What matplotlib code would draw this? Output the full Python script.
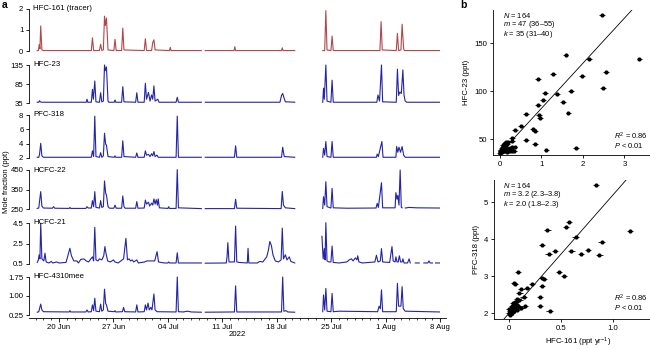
import numpy as np
import matplotlib
matplotlib.use("Agg")
import matplotlib.pyplot as plt

plt.rcParams['font.family'] = ['Liberation Sans', 'DejaVu Sans']
plt.rcParams['mathtext.fontset'] = 'custom'
plt.rcParams['mathtext.rm'] = 'Liberation Sans'
plt.rcParams['mathtext.it'] = 'Liberation Sans:italic'

nan = np.nan
GAP = (nan, nan)

# ---------------- data: panel a (time in days since 2022-06-20 00:00) ----------------
tick_days = [0, 7, 14, 21, 28, 35, 42, 49]
tick_labels = ['20 Jun', '27 Jun', '04 Jul', '11 Jul', '18 Jul', '25 Jul', '1 Aug', '8 Aug']

hfc161 = [(-2.8, 0.02), (-2.65, 0.02), (-2.55, 0.3), (-2.45, 0.1), (-2.35, 1.18), (-2.2, 0.05), (-2.0, 0.02),
          (4.15, 0.02), (4.3, 0.62), (4.45, 0.02), (5.2, 0.02), (5.35, 0.32), (5.5, 0.03), (5.7, 0.05),
          (5.85, 1.64), (5.95, 1.2), (6.1, 1.55), (6.3, 0.05), (7.05, 0.02), (7.2, 0.55), (7.35, 0.02),
          (8.05, 0.02), (8.2, 1.08), (8.35, 0.05), (10.95, 0.02), (11.1, 0.58), (11.25, 0.02),
          (11.9, 0.02), (12.05, 0.4), (12.2, 0.53), (12.35, 0.05), (14.2, 0.02), (14.3, 0.17), (14.4, 0.02),
          (18.3, 0.02), GAP,
          (18.8, 0.02), (22.5, 0.02), (22.6, 0.2), (22.7, 0.02), (28.6, 0.02), (28.7, 0.15), (28.8, 0.02),
          (30.3, 0.02), GAP,
          (33.9, 0.02), (34.15, 0.02), (34.3, 1.9), (34.45, 0.05), (34.95, 0.02), (35.1, 0.7), (35.25, 0.02),
          (41.25, 0.02), (41.4, 1.38), (41.55, 0.05), (43.35, 0.02), (43.5, 0.83), (43.65, 0.02),
          (43.95, 0.05), (44.1, 1.26), (44.3, 0.1), (44.4, 0.02), (48.9, 0.02)]

hfc23 = [(-2.8, 37), (-2.6, 37), (-2.5, 41), (-2.4, 38), (-2.2, 37), (3.5, 37), (3.6, 45), (3.7, 37),
         (4.15, 37), (4.3, 71), (4.42, 45), (4.6, 93), (4.75, 38), (5.2, 37), (5.35, 62), (5.5, 38),
         (5.7, 40), (5.85, 135), (5.95, 120), (6.1, 130), (6.3, 40), (6.4, 37), (7.1, 37), (7.2, 43),
         (7.3, 37), (8.05, 37), (8.2, 78), (8.35, 38), (9.85, 37), (10.0, 62), (10.15, 37), (10.95, 37),
         (11.1, 87), (11.25, 45), (11.5, 63), (11.7, 40), (11.9, 56), (12.05, 45), (12.2, 80), (12.35, 40),
         (12.7, 45), (12.85, 37), (15.05, 37), (15.2, 50), (15.35, 37), (18.3, 37), GAP,
         (18.8, 37), (28.4, 37), (28.6, 55), (28.75, 60), (28.9, 50), (29.1, 38), (29.4, 38), (30.3, 37), GAP,
         (33.9, 37), (34.0, 74), (34.1, 45), (34.3, 135), (34.45, 40), (34.95, 37), (35.1, 95), (35.25, 37),
         (40.85, 37), (41.0, 56), (41.2, 40), (41.45, 135), (41.6, 38), (43.35, 37), (43.5, 124),
         (43.65, 55), (43.8, 64), (44.0, 60), (44.2, 122), (44.35, 55), (44.5, 40), (44.7, 37), (48.9, 37)]

pfc318 = [(-2.8, 2.1), (-2.6, 2.1), (-2.5, 2.5), (-2.35, 4.05), (-2.2, 2.3), (-2.0, 2.1), (4.15, 2.1),
          (4.3, 3.0), (4.45, 2.2), (4.6, 7.85), (4.75, 2.2), (5.2, 2.1), (5.35, 2.75), (5.5, 2.1), (5.7, 2.3),
          (5.85, 5.45), (6.0, 3.9), (6.1, 3.8), (6.3, 2.2), (7.1, 2.1), (7.2, 2.3), (7.3, 2.1), (8.05, 2.1),
          (8.2, 4.4), (8.35, 2.2), (9.85, 2.1), (10.0, 2.7), (10.15, 2.1), (10.95, 2.1), (11.1, 3.0),
          (11.25, 2.4), (11.5, 2.5), (11.7, 2.2), (11.9, 2.6), (12.05, 2.3), (12.2, 2.9), (12.35, 2.2),
          (12.6, 2.4), (12.75, 2.1), (15.05, 2.1), (15.2, 7.85), (15.35, 2.1), (18.3, 2.1), GAP,
          (18.8, 2.1), (22.55, 2.1), (22.7, 3.7), (22.85, 2.1), (28.6, 2.1), (28.75, 3.5), (28.95, 2.2),
          (30.3, 2.1), GAP,
          (33.9, 2.1), (34.0, 3.35), (34.15, 2.4), (34.3, 4.3), (34.45, 2.2), (34.95, 2.1), (35.1, 4.3),
          (35.25, 2.1), (40.8, 2.1), (40.9, 2.55), (41.05, 2.2), (41.5, 4.3), (41.65, 2.1), (43.3, 2.1),
          (43.4, 3.6), (43.55, 2.8), (43.7, 3.5), (43.9, 2.8), (44.1, 3.6), (44.3, 2.4), (44.5, 2.1),
          (48.9, 2.1)]

hcfc22 = [(-2.8, 253), (-2.6, 255), (-2.5, 290), (-2.35, 339), (-2.2, 265), (-2.0, 255), (-0.85, 254),
          (-0.7, 262), (-0.55, 254), (1.3, 253), (1.4, 258), (1.5, 253), (3.45, 253), (3.6, 262), (3.75, 255),
          (4.15, 255), (4.3, 293), (4.45, 262), (4.6, 339), (4.75, 258), (5.2, 255), (5.35, 293), (5.5, 258),
          (5.7, 262), (5.85, 394), (6.0, 330), (6.1, 322), (6.3, 262), (6.5, 254), (7.05, 254), (7.2, 270),
          (7.35, 254), (8.05, 254), (8.2, 317), (8.35, 262), (8.5, 254), (9.85, 254), (10.0, 288),
          (10.15, 254), (10.95, 255), (11.1, 296), (11.25, 275), (11.5, 285), (11.65, 265), (11.9, 280),
          (12.05, 270), (12.2, 302), (12.35, 275), (12.5, 298), (12.65, 270), (12.75, 302), (12.9, 256),
          (14.0, 253), (14.1, 262), (14.2, 253), (15.05, 253), (15.2, 452), (15.35, 256), (18.3, 252), GAP,
          (18.8, 252), (22.55, 252), (22.7, 300), (22.85, 254), (28.55, 252), (28.7, 340), (28.85, 270),
          (29.1, 256), (30.3, 252), GAP,
          (33.9, 253), (34.0, 313), (34.15, 270), (34.3, 390), (34.45, 262), (34.95, 255), (35.1, 356),
          (35.25, 256), (37.0, 254), (40.75, 255), (40.9, 279), (41.05, 258), (41.45, 385), (41.6, 256),
          (43.2, 256), (43.3, 334), (43.45, 300), (43.55, 320), (43.7, 270), (43.85, 450), (44.0, 258),
          (44.1, 256), GAP, (44.5, 255), (45.0, 258), (46.0, 256), (48.9, 255)]

hcfc21 = [(-2.8, 0.65), (-2.65, 0.9), (-2.56, 1.38), (-2.45, 1.0), (-2.35, 4.47), (-2.2, 1.0), (-1.95, 0.8),
          (-1.8, 1.55), (-1.65, 0.7), (-1.3, 0.6), (-1.0, 0.75), (-0.8, 0.6), (-0.3, 0.7), (0.0, 0.6),
          (0.9, 0.65), (1.2, 1.5), (1.4, 2.03), (1.6, 1.3), (1.9, 0.8), (2.3, 0.8), (2.5, 0.6), (2.8, 0.95),
          (3.2, 1.0), (3.5, 0.8), (3.8, 0.7), (4.1, 1.0), (4.3, 1.2), (4.45, 0.8), (4.6, 4.08), (4.75, 0.9),
          (5.0, 0.8), (5.2, 1.0), (5.5, 0.9), (5.75, 1.3), (5.9, 2.2), (6.05, 1.5), (6.25, 0.8), (6.6, 0.7),
          (7.0, 0.9), (7.2, 0.7), (7.6, 0.6), (8.3, 1.0), (8.6, 3.0), (8.8, 0.9), (9.0, 1.0), (9.2, 0.8),
          (9.4, 0.9), (9.6, 0.7), (10.0, 0.9), (10.2, 0.6), (11.0, 0.7), (11.3, 0.8), (12.3, 0.8),
          (12.6, 1.7), (12.8, 0.7), (13.5, 0.6), (14.0, 0.6), (14.1, 0.7), (14.2, 0.6), (15.05, 0.6),
          (15.2, 1.6), (15.35, 0.6), (18.3, 0.6), GAP,
          (18.8, 0.58), (21.5, 0.6), (21.6, 1.2), (21.7, 2.58), (21.85, 0.7), (22.55, 0.7), (22.7, 4.2),
          (22.85, 0.7), (23.2, 0.65), (24.2, 0.6), (24.3, 2.03), (24.4, 0.6), (25.5, 0.6), (25.8, 0.75),
          (26.2, 0.7), (26.7, 1.2), (26.9, 1.8), (27.1, 2.7), (27.3, 2.3), (27.5, 1.4), (27.8, 0.8),
          (28.2, 0.7), (28.55, 0.9), (28.7, 4.0), (28.85, 1.0), (29.1, 1.4), (29.3, 0.9), (29.6, 1.2),
          (29.8, 0.75), (30.3, 0.6), GAP,
          (33.8, 3.2), (33.95, 1.0), (34.1, 2.0), (34.2, 0.9), (34.3, 4.53), (34.45, 0.8), (34.7, 0.7),
          (34.95, 0.7), (35.1, 2.25), (35.25, 0.65), (36.0, 0.6), (37.0, 0.7), (37.3, 0.9), (37.6, 1.0),
          (37.8, 0.8), (38.1, 1.1), (38.3, 0.9), (38.4, 1.3), (38.55, 0.7), (39.0, 0.6), (40.6, 0.7),
          (40.8, 1.35), (41.0, 0.7), (41.3, 0.8), (41.45, 2.0), (41.6, 0.7), (42.5, 0.65), (42.8, 2.2),
          (42.95, 0.8), (43.2, 0.7), (43.3, 1.2), (43.45, 0.7), (43.6, 0.7), (43.75, 1.3), (43.9, 0.7),
          (44.1, 0.7), (44.2, 1.0), (44.35, 0.6), (44.8, 0.6), (45.0, 1.0), (45.15, 0.6), GAP,
          (45.8, 0.6), (46.3, 0.6), GAP, (46.9, 0.6), (47.4, 0.6), (47.55, 0.8), (47.7, 0.6), (48.0, 0.6), GAP,
          (48.4, 0.6), (48.9, 0.6)]

hfc4310 = [(-2.8, 0.36), (-2.6, 0.38), (-2.5, 0.5), (-2.35, 0.68), (-2.2, 0.45), (-2.0, 0.38), (1.3, 0.37),
           (1.4, 0.42), (1.5, 0.37), (3.45, 0.37), (3.6, 0.45), (3.75, 0.37), (4.15, 0.38), (4.3, 0.65),
           (4.45, 0.42), (4.6, 0.91), (4.75, 0.4), (5.2, 0.38), (5.35, 0.68), (5.5, 0.4), (5.7, 0.45),
           (5.85, 1.27), (6.0, 0.7), (6.1, 0.65), (6.3, 0.4), (7.1, 0.38), (7.2, 0.42), (7.3, 0.37),
           (8.15, 0.38), (8.3, 0.55), (8.45, 0.38), (9.85, 0.37), (10.0, 0.65), (10.15, 0.37), (10.95, 0.38),
           (11.1, 0.65), (11.25, 0.45), (11.45, 0.72), (11.6, 0.45), (11.8, 0.55), (11.95, 0.45),
           (12.2, 1.08), (12.35, 0.45), (12.6, 0.38), (15.05, 0.37), (15.2, 1.75), (15.35, 0.38),
           (16.0, 0.37), (16.5, 0.4), (17.0, 0.37), (18.3, 0.36), GAP,
           (18.8, 0.36), (22.55, 0.37), (22.7, 1.4), (22.85, 0.37), (28.6, 0.37), (28.75, 1.75), (28.9, 0.4),
           (29.2, 0.42), (29.4, 0.37), (30.3, 0.36), GAP,
           (33.9, 0.38), (34.0, 1.04), (34.15, 0.45), (34.3, 1.3), (34.45, 0.4), (34.95, 0.38), (35.1, 1.1),
           (35.25, 0.38), (36.0, 0.4), (40.95, 0.38), (41.15, 0.6), (41.3, 0.5), (41.45, 1.24), (41.6, 0.38),
           (43.35, 0.38), (43.5, 1.5), (43.65, 0.6), (43.8, 0.6), (43.95, 0.6), (44.1, 1.37), (44.25, 0.5),
           (44.5, 0.4), (48.9, 0.37)]

series_names = ['HFC-161 (tracer)', 'HFC-23', 'PFC-318', 'HCFC-22', 'HCFC-21', 'HFC-4310mee']
series_data = [hfc161, hfc23, pfc318, hcfc22, hcfc21, hfc4310]
series_ticks = [[0, 1, 2], [35, 85, 135], [2, 4, 6, 8], [250, 350, 450], [0.5, 2.5, 4.5], [0.25, 1.00, 1.75]]
series_ticklabels = [['0', '1', '2'], ['35', '85', '135'], ['2', '4', '6', '8'], ['250', '350', '450'],
                     ['0.5', '2.5', '4.5'], ['0.25', '1.00', '1.75']]

# ---------------- data: panel b ----------------
b1_x = [2.45, 1.58, 2.15, 3.36, 1.28, 2.55, 1.98, 0.92, 2.49, 1.72, 1.09, 1.04, 1.37, 1.51, 0.92, 1.65, 0.94,
        0.96, 0.63, 0.50, 0.37, 0.80, 0.84, 0.62, 0.84, 1.12, 1.83, 0.28, 0.29, 0.30,
        0.02, 0.04, 0.05, 0.06, 0.08, 0.10, 0.12, 0.05, 0.07, 0.10, 0.13, 0.15, 0.18, 0.20, 0.16, 0.20,
        0.22, 0.25, 0.30, 0.12, 0.09, 0.03, 0.14, 0.28, 0.33, 0.35, 0.23, 0.18, 0.07, 0.11, 0.0, 0.01]
b1_y = [179, 138, 133, 133, 118, 120, 116, 112.5, 103, 100, 98, 91, 97, 89, 85, 77, 75,
        72, 76, 64, 59, 60, 58, 49, 45, 38.5, 41, 51, 42, 39,
        36, 37, 38, 36.5, 39, 40, 41, 41, 42, 43, 44, 42, 45, 47, 39, 38,
        40, 41, 38, 37, 38, 39, 47, 48, 38, 42, 37, 36.5, 44, 46, 35.5, 38]
b2_x = [0.84, 0.58, 0.55, 0.37, 1.16, 0.64, 0.89, 0.32, 0.44, 0.60, 0.38, 0.69, 0.76, 0.87, 0.09, 0.48, 0.53,
        0.32, 0.34, 0.05, 0.06, 0.32, 0.22, 0.17, 0.12, 0.10, 0.30, 0.08, 0.30, 0.39, 0.10,
        0.0, 0.01, 0.02, 0.03, 0.04, 0.05, 0.06, 0.03, 0.05, 0.07, 0.04, 0.06, 0.08, 0.10, 0.02, 0.0,
        0.09, 0.12, 0.08, 0.05, 0.14, 0.15, 0.01, 0.03]
b2_y = [5.47, 4.46, 4.34, 4.24, 4.22, 4.07, 3.94, 3.85, 3.68, 3.68, 3.61, 3.61, 3.70, 3.58, 3.11, 3.11, 3.01,
        2.95, 2.93, 2.81, 2.79, 2.74, 2.78, 2.69, 2.66, 2.54, 2.45, 2.40, 2.20, 2.06, 2.17,
        2.00, 2.05, 2.08, 2.10, 2.12, 2.15, 2.18, 2.20, 2.22, 2.25, 2.28, 2.30, 2.32, 2.35, 2.15, 2.12,
        2.20, 2.15, 2.10, 2.05, 2.45, 2.20, 1.95, 2.0]
b1_xerr = 0.07
b2_xerr = 0.03
fit1 = (47, 35)   # slope, intercept
fit2 = (3.2, 2.0)

# ---------------- layout ----------------
W, H = 650, 349
fig = plt.figure(figsize=(6.5, 3.49), dpi=100)
fs = 5.6


def axes_px(left, top, right, bottom):
    return fig.add_axes([left / W, 1 - bottom / H, (right - left) / W, (bottom - top) / H])


RED = '#b0474b'
BLUE = '#2424a4'
day_px0, day_scale = 59.0, 7.78   # px of day 0, px per day
ax_left_px, ax_right_px = 29, 446
xlim = ((ax_left_px - day_px0) / day_scale, (ax_right_px - day_px0) / day_scale)

# (low tick px, high tick px)
row_px = [(51, 8.5), (103, 65), (158, 115), (209, 170), (264, 223), (315, 277)]

axes_a = []
for i, (name, data, ticks, tl) in enumerate(zip(series_names, series_data, series_ticks, series_ticklabels)):
    lo_px, hi_px = row_px[i]
    lo_v, hi_v = ticks[0], ticks[-1]
    top_px = hi_px - 4
    bot_px = 318 if i == 5 else lo_px + 3
    sc = (hi_v - lo_v) / (lo_px - hi_px)
    ax = axes_px(ax_left_px, top_px, ax_right_px, bot_px)
    ax.set_ylim(lo_v - (bot_px - lo_px) * sc, hi_v + (hi_px - top_px) * sc)
    ax.set_xlim(*xlim)
    arr = np.array(data, dtype=float)
    ax.plot(arr[:, 0], arr[:, 1], color=RED if i == 0 else BLUE, lw=0.8, clip_on=False)
    for s in ['top', 'right']:
        ax.spines[s].set_visible(False)
    ax.spines['left'].set_bounds(lo_v, hi_v)
    ax.spines['left'].set_linewidth(0.6)
    ax.set_yticks(ticks)
    ax.set_yticklabels(tl)
    ax.tick_params(axis='y', direction='out', length=2.5, width=0.6, labelsize=fs, pad=1.5)
    if i < 5:
        ax.spines['bottom'].set_visible(False)
        ax.set_xticks([])
    else:
        ax.spines['bottom'].set_linewidth(0.6)
        ax.set_xticks(tick_days)
        ax.set_xticklabels(tick_labels)
        ax.set_xticks(np.arange(-3, 50, 1), minor=True)
        ax.tick_params(axis='x', which='major', direction='out', length=3, width=0.6, labelsize=fs, pad=1.5)
        ax.tick_params(axis='x', which='minor', direction='out', length=1.5, width=0.5)
    ax.patch.set_visible(False)
    fig.text(33 / W, 1 - hi_px / H, name, fontsize=fs, va='center', ha='left')
    axes_a.append(ax)

fig.text(237 / W, 1 - 334 / H, '2022', fontsize=fs, ha='center', va='center')
fig.text(7 / W, 1 - 182 / H, 'Mole fraction (ppt)', fontsize=fs, rotation=90, ha='center', va='center')
fig.text(5 / W, 1 - 5 / H, 'a', fontsize=7.5, fontweight='bold', ha='center', va='center')
fig.text(463 / W, 1 - 5 / H, 'b', fontsize=7.5, fontweight='bold', ha='center', va='center')

# ---------------- panel b ----------------
def scatter_panel(left, top, bottom, right, x0px, xs, y0px, y0v, ys, xs_, ys_, xerr, fit, xt, xtl, yt, ylab):
    ax = axes_px(left, top, right, bottom)
    ax.set_xlim((left - x0px) / xs, (right - x0px) / xs)
    ax.set_ylim(y0v - (bottom - y0px) / ys, y0v + (y0px - top) / ys)
    for s in ['top', 'right']:
        ax.spines[s].set_visible(False)
    for s in ['left', 'bottom']:
        ax.spines[s].set_linewidth(0.6)
    xl = np.array(ax.get_xlim())
    ax.plot(xl, fit[1] + fit[0] * xl, color='black', lw=0.6)
    ax.errorbar(xs_, ys_, xerr=xerr, fmt='o', ms=2.0, color='black', ecolor='black', elinewidth=0.6, capsize=0)
    ax.set_xticks(xt)
    ax.set_xticklabels(xtl)
    ax.set_yticks(yt)
    ax.tick_params(direction='out', length=2.5, width=0.6, labelsize=fs, pad=1.5)
    ax.set_ylabel(ylab, fontsize=fs, labelpad=3)
    ax.patch.set_visible(False)
    return ax


axb1 = scatter_panel(493, 10, 155, 662, 500, 41.5, 139, 50, 0.96, b1_x, b1_y, b1_xerr, fit1,
                     [0, 1, 2, 3], ['0', '1', '2', '3'], [50, 100, 150], 'HFC-23 (ppt)')
axb2 = scatter_panel(494, 180, 319, 662, 509, 104, 313.3, 2, 37, b2_x, b2_y, b2_xerr, fit2,
                     [0, 0.5, 1.0], ['0', '0.5', '1.0'], [2, 3, 4, 5], 'PFC-318 (ppt)')
axb2.set_xlabel('HFC-161 (ppt yr$^{-1}$)', fontsize=fs, labelpad=3)

fs2 = 5.4
for (y1, lines) in [(15, ['$N$ = 164', '$m$ = 47 (36–55)', '$k$ = 35 (31–40)']),
                    (185, ['$N$ = 164', '$m$ = 3.2 (2.3–3.8)', '$k$ = 2.0 (1.8–2.3)'])]:
    for j, t in enumerate(lines):
        fig.text(503 / W, 1 - (y1 + 9.5 * j) / H, t, fontsize=fs2, ha='left', va='center')
for y1 in [136, 298]:
    fig.text(614 / W, 1 - y1 / H, '$R^2$ = 0.86', fontsize=fs2, ha='left', va='center')
    fig.text(614 / W, 1 - (y1 + 9.5) / H, '$P$ < 0.01', fontsize=fs2, ha='left', va='center')

fig.savefig('out.png', dpi=100)
